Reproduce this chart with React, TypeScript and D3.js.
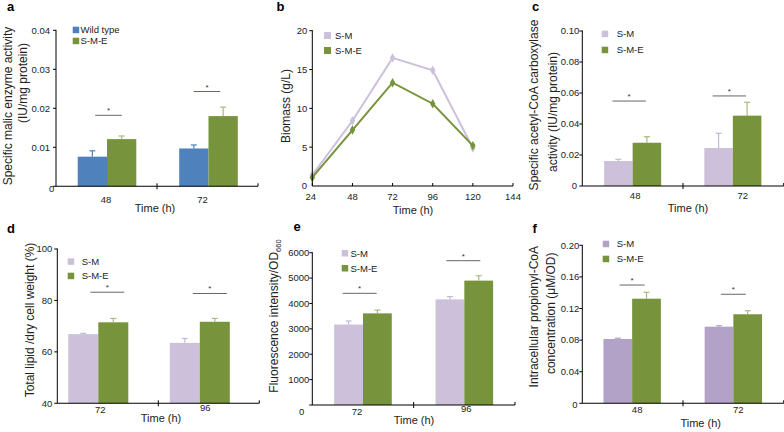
import React from "react";
import * as d3 from "d3";

const FONT = "'Liberation Sans', Arial, Helvetica, sans-serif";
const TXT = "#222";

const BLUE = "#4f81bd";
const GREEN = "#77933c";
const GREEN_ERR = "#a9b97f";
const LAV = "#ccc0da";
const LAV_ERR = "#c5b8d6";
const PURPLE = "#b3a2c7";

// ---- Panel a ----
const aCategories = ["48", "72"];
const aSeries = ["Wild type", "S-M-E"];
const aWildType = [0.0076, 0.0097];
const aWildTypeErr = [0.0015, 0.0009];
const aSME = [0.0121, 0.018];
const aSMEErr = [0.0008, 0.0023];
const aSig = [0.0182, 0.0243];
const aTicks = [0, 0.01, 0.02, 0.03, 0.04];

// ---- Panel b ----
const bTimes = [24, 48, 72, 96, 120];
const bSeries = ["S-M", "S-M-E"];
const bSM = [1.4, 8.4, 16.5, 14.9, 4.9];
const bSME = [1.1, 7.2, 13.3, 10.6, 5.2];
const bXTicks = [24, 48, 72, 96, 120, 144];
const bYTicks = [0, 5, 10, 15, 20];

// ---- Panel c ----
const cCategories = ["48", "72"];
const cSeries = ["S-M", "S-M-E"];
const cSM = [0.0161, 0.0245];
const cSMErr = [0.0011, 0.0095];
const cSME = [0.0279, 0.0454];
const cSMEErr = [0.0039, 0.0086];
const cSig = [0.0548, 0.0581];
const cTicks = [0, 0.02, 0.04, 0.06, 0.08, 0.1];

// ---- Panel d ----
const dCategories = ["72", "96"];
const dSeries = ["S-M", "S-M-E"];
const dSM = [66.9, 63.5];
const dSMErr = [0.3, 1.7];
const dSME = [71.5, 71.7];
const dSMEErr = [1.5, 1.3];
const dSig = [83.2, 82.7];
const dTicks = [40, 60, 80, 100];

// ---- Panel e ----
const eCategories = ["72", "96"];
const eSeries = ["S-M", "S-M-E"];
const eSM = [3170, 4160];
const eSMErr = [140, 110];
const eSME = [3610, 4900];
const eSMEErr = [130, 190];
const eSig = [4400, 5685];
const eTicks = [0, 1000, 2000, 3000, 4000, 5000, 6000];

// ---- Panel f ----
const fCategories = ["48", "72"];
const fSeries = ["S-M", "S-M-E"];
const fSM = [0.0814, 0.097];
const fSMErr = [0.001, 0.0012];
const fSME = [0.1324, 0.1127];
const fSMEErr = [0.0081, 0.0045];
const fSig = [0.1497, 0.138];
const fTicks = [0, 0.04, 0.08, 0.12, 0.16, 0.2];

type YLabel = { content: React.ReactNode; x: number; y: number };

type BarCfg = {
  letter: string;
  letterX: number;
  letterY: number;
  x0: number;
  x1: number;
  yBottom: number;
  yTop: number;
  domain: [number, number];
  ticks: number[];
  fmt: (v: number) => string;
  cats: string[];
  series: string[];
  values: number[][];
  errs: number[][];
  colors: string[];
  errColors: string[];
  barW: number;
  groupOffsets: number[];
  labelOffsets: number[];
  labelYs: number[];
  sig: number[];
  sigOffsets: number[];
  sigHalf: number;
  legendX: number;
  legendY: number;
  legendTextX: number;
  legendGap: number;
  yLabels: YLabel[];
  timeX: number;
  timeY: number;
  zeroLabel?: { x: number; y: number };
  tickGap: number;
};

function BarPanel({ c }: { c: BarCfg }) {
  const y = d3.scaleLinear().domain(c.domain).range([c.yBottom, c.yTop]);
  const xb = d3.scaleBand().domain(c.cats).range([c.x0, c.x1]);
  const inner = d3.scaleBand().domain(c.series).range([-c.barW, c.barW]);
  const mid = (c.x0 + c.x1) / 2;
  return (
    <g fill={TXT}>
      <text x={c.letterX} y={c.letterY} fontSize={13} fontWeight="bold" fontFamily={FONT} fill="#000">
        {c.letter}
      </text>
      {c.cats.map((cat, i) => {
        const center = (xb(cat) as number) + xb.bandwidth() / 2 + c.groupOffsets[i];
        return (
          <g key={cat}>
            {c.series.map((s, j) => {
              const v = c.values[j][i];
              const e = c.errs[j][i];
              const bx = center + (inner(s) as number);
              const bw = inner.bandwidth();
              const cx = bx + bw / 2;
              return (
                <g key={s}>
                  <rect x={bx} y={y(v)} width={bw} height={c.yBottom - y(v)} fill={c.colors[j]} />
                  <line x1={cx} x2={cx} y1={y(v)} y2={y(v + e)} stroke={c.errColors[j]} strokeWidth={1.2} />
                  <line x1={cx - 3} x2={cx + 3} y1={y(v + e)} y2={y(v + e)} stroke={c.errColors[j]} strokeWidth={1.2} />
                </g>
              );
            })}
            <line
              x1={center + c.sigOffsets[i] - c.sigHalf}
              x2={center + c.sigOffsets[i] + c.sigHalf}
              y1={y(c.sig[i])}
              y2={y(c.sig[i])}
              stroke="#555"
              strokeWidth={0.9}
            />
            <text x={center + c.sigOffsets[i]} y={y(c.sig[i]) - 2} fontSize={8} textAnchor="middle" fontFamily={FONT} fill="#333">
              *
            </text>
            <text x={center + c.labelOffsets[i]} y={c.labelYs[i]} dy="0.35em" fontSize={9.5} textAnchor="middle" fontFamily={FONT}>
              {cat}
            </text>
          </g>
        );
      })}
      <line x1={c.x0} x2={c.x0} y1={c.yTop - 0.5} y2={c.yBottom} stroke="#000" strokeWidth={1} />
      <line x1={c.x0} x2={c.x1} y1={c.yBottom} y2={c.yBottom} stroke="#000" strokeWidth={1.1} />
      <line x1={mid} x2={mid} y1={c.yBottom - 3} y2={c.yBottom + 3} stroke="#000" strokeWidth={1} />
      <line x1={c.x1} x2={c.x1} y1={c.yBottom - 3} y2={c.yBottom} stroke="#000" strokeWidth={1} />
      {c.ticks.map((t, k) => (
        <g key={k}>
          <line x1={c.x0 - 3} x2={c.x0} y1={y(t)} y2={y(t)} stroke="#000" strokeWidth={1} />
          {k === 0 && c.zeroLabel ? (
            <text x={c.zeroLabel.x} y={c.zeroLabel.y} dy="0.35em" fontSize={9.5} textAnchor="middle" fontFamily={FONT}>
              {c.fmt(t)}
            </text>
          ) : (
            <text x={c.x0 - c.tickGap} y={y(t)} dy="0.35em" fontSize={9.5} textAnchor="end" fontFamily={FONT}>
              {c.fmt(t)}
            </text>
          )}
        </g>
      ))}
      {c.series.map((s, j) => (
        <g key={s}>
          <rect x={c.legendX} y={c.legendY + j * c.legendGap} width={6.5} height={6.5} fill={c.colors[j]} />
          <text x={c.legendTextX} y={c.legendY + j * c.legendGap + 3.25} dy="0.35em" fontSize={9.5} fontFamily={FONT}>
            {s}
          </text>
        </g>
      ))}
      {c.yLabels.map((l, k) => (
        <text
          key={k}
          transform={`translate(${l.x},${l.y}) rotate(-90)`}
          dy="0.35em"
          textAnchor="middle"
          fontSize={12}
          fontFamily={FONT}
        >
          {l.content}
        </text>
      ))}
      <text x={c.timeX} y={c.timeY} dy="0.35em" textAnchor="middle" fontSize={11} fontFamily={FONT}>
        Time (h)
      </text>
    </g>
  );
}

function LinePanel() {
  const x0 = 312.3;
  const yB = 186;
  const x = d3.scaleLinear().domain([24, 144]).range([x0, 513]);
  const y = d3.scaleLinear().domain([0, 20]).range([yB, 30.7]);
  const line = d3
    .line<number>()
    .x((_, i) => x(bTimes[i]))
    .y((d) => y(d));
  const sym = d3.symbol().type(d3.symbolDiamond).size(26);
  const seriesVals = [bSM, bSME];
  const colors = [LAV, GREEN];
  return (
    <g fill={TXT}>
      <text x={276.5} y={11} fontSize={13} fontWeight="bold" fontFamily={FONT} fill="#000">
        b
      </text>
      {seriesVals.map((vals, j) => (
        <g key={j}>
          <path d={line(vals) as string} fill="none" stroke={colors[j]} strokeWidth={2} />
          {vals.map((v, i) => (
            <path key={i} d={sym() as string} transform={`translate(${x(bTimes[i])},${y(v)})`} fill={colors[j]} />
          ))}
        </g>
      ))}
      <line x1={x0} x2={x0} y1={30.2} y2={yB} stroke="#000" strokeWidth={1} />
      <line x1={x0} x2={513} y1={yB} y2={yB} stroke="#000" strokeWidth={1.1} />
      {bXTicks.map((t) => (
        <g key={t}>
          <line x1={x(t)} x2={x(t)} y1={yB - 3} y2={yB} stroke="#000" strokeWidth={1} />
          <text x={t === 24 ? x(t) - 1.5 : x(t)} y={196.5} dy="0.35em" fontSize={9.5} textAnchor="middle" fontFamily={FONT}>
            {t}
          </text>
        </g>
      ))}
      {bYTicks.map((t) =>
        t === 0 ? (
          <text key={t} x={304.5} y={186} dy="0.35em" fontSize={9.5} textAnchor="middle" fontFamily={FONT}>
            0
          </text>
        ) : (
          <g key={t}>
            <line x1={x0 - 3} x2={x0} y1={y(t)} y2={y(t)} stroke="#000" strokeWidth={1} />
            <text x={x0 - 5} y={y(t)} dy="0.35em" fontSize={9.5} textAnchor="end" fontFamily={FONT}>
              {t}
            </text>
          </g>
        )
      )}
      {bSeries.map((s, j) => (
        <g key={s}>
          <rect x={324} y={32 + j * 15} width={7} height={7} fill={colors[j]} />
          <text x={335} y={35.5 + j * 15} dy="0.35em" fontSize={9.5} fontFamily={FONT}>
            {s}
          </text>
        </g>
      ))}
      <text transform="translate(286,106) rotate(-90)" dy="0.35em" textAnchor="middle" fontSize={12} fontFamily={FONT}>
        Biomass (g/L)
      </text>
      <text x={413} y={210} dy="0.35em" textAnchor="middle" fontSize={11} fontFamily={FONT}>
        Time (h)
      </text>
    </g>
  );
}

const fmtPlain = (v: number) => (v === 0 ? "0" : String(v));
const fmt2 = (v: number) => (v === 0 ? "0" : v.toFixed(2));

const panelA: BarCfg = {
  letter: "a", letterX: 7, letterY: 11,
  x0: 56, x1: 258, yBottom: 186.3, yTop: 30.3,
  domain: [0, 0.04], ticks: aTicks, fmt: fmt2,
  cats: aCategories, series: aSeries,
  values: [aWildType, aSME], errs: [aWildTypeErr, aSMEErr],
  colors: [BLUE, GREEN], errColors: [BLUE, GREEN_ERR],
  barW: 29.3, groupOffsets: [0.5, 1], labelOffsets: [-1, -6], labelYs: [200, 200],
  sig: aSig, sigOffsets: [1.5, -1.5], sigHalf: 13.3,
  legendX: 72.7, legendY: 26.7, legendTextX: 80.5, legendGap: 11,
  yLabels: [
    { content: "Specific malic enzyme activity", x: 7.5, y: 106 },
    { content: "(IU/mg protein)", x: 22.5, y: 83 },
  ],
  timeX: 155, timeY: 208,
  zeroLabel: { x: 51.7, y: 189 },
  tickGap: 6,
};

const panelC: BarCfg = {
  letter: "c", letterX: 532, letterY: 11,
  x0: 582.3, x1: 783.7, yBottom: 186, yTop: 31,
  domain: [0, 0.1], ticks: cTicks, fmt: fmt2,
  cats: cCategories, series: cSeries,
  values: [cSM, cSME], errs: [cSMErr, cSMEErr],
  colors: [LAV, GREEN], errColors: [LAV_ERR, GREEN_ERR],
  barW: 28.5, groupOffsets: [0, -0.5], labelOffsets: [2.5, 10], labelYs: [196, 196],
  sig: cSig, sigOffsets: [-3.5, -3.5], sigHalf: 16.7,
  legendX: 601.7, legendY: 30.7, legendTextX: 616.7, legendGap: 16,
  yLabels: [
    { content: "Specific acetyl-CoA carboxylase", x: 534, y: 105 },
    { content: "activity (IU/mg protein)", x: 553, y: 112 },
  ],
  timeX: 688, timeY: 208,
  zeroLabel: { x: 574.3, y: 185.5 },
  tickGap: 3,
};

const panelD: BarCfg = {
  letter: "d", letterX: 7, letterY: 232.5,
  x0: 57.3, x1: 259.3, yBottom: 403.3, yTop: 249,
  domain: [40, 100], ticks: dTicks, fmt: fmtPlain,
  cats: dCategories, series: dSeries,
  values: [dSM, dSME], errs: [dSMErr, dSMEErr],
  colors: [LAV, GREEN], errColors: [LAV_ERR, GREEN_ERR],
  barW: 30, groupOffsets: [-9.5, -9], labelOffsets: [2, 5.5], labelYs: [410, 408],
  sig: dSig, sigOffsets: [9, 10], sigHalf: 17,
  legendX: 67.7, legendY: 258.3, legendTextX: 81.7, legendGap: 14.4,
  yLabels: [{ content: "Total lipid /dry cell weight (%)", x: 29.5, y: 320 }],
  timeX: 161, timeY: 418,
  tickGap: 5,
};

const panelE: BarCfg = {
  letter: "e", letterX: 293.5, letterY: 231,
  x0: 312.3, x1: 515, yBottom: 405, yTop: 252.7,
  domain: [0, 6000], ticks: eTicks, fmt: fmtPlain,
  cats: eCategories, series: eSeries,
  values: [eSM, eSME], errs: [eSMErr, eSMEErr],
  colors: [LAV, GREEN], errColors: [LAV_ERR, GREEN_ERR],
  barW: 28.8, groupOffsets: [0, 0], labelOffsets: [-6, 2], labelYs: [411.7, 409],
  sig: eSig, sigOffsets: [-3.3, -1], sigHalf: 17,
  legendX: 341.7, legendY: 250, legendTextX: 350.5, legendGap: 15,
  yLabels: [
    {
      content: (
        <>
          Fluorescence intensity/OD
          <tspan fontSize={7.5} dy="3">660</tspan>
        </>
      ),
      x: 273.7,
      y: 316,
    },
  ],
  timeX: 414, timeY: 420,
  zeroLabel: { x: 301.7, y: 411.7 },
  tickGap: 3,
};

const panelF: BarCfg = {
  letter: "f", letterX: 532.5, letterY: 232.5,
  x0: 582.3, x1: 783.7, yBottom: 403.3, yTop: 245.3,
  domain: [0, 0.2], ticks: fTicks, fmt: fmt2,
  cats: fCategories, series: fSeries,
  values: [fSM, fSME], errs: [fSMErr, fSMEErr],
  colors: [PURPLE, GREEN], errColors: [PURPLE, GREEN_ERR],
  barW: 28.7, groupOffsets: [-0.5, 0], labelOffsets: [5, 5], labelYs: [410, 410],
  sig: fSig, sigOffsets: [0, 0], sigHalf: 12.5,
  legendX: 602.7, legendY: 240.7, legendTextX: 616.7, legendGap: 15,
  yLabels: [
    { content: "Intracellular propionyl-CoA", x: 534, y: 316.7 },
    { content: "concentration (μM/OD)", x: 551, y: 313.3 },
  ],
  timeX: 700.7, timeY: 423,
  zeroLabel: { x: 575, y: 405 },
  tickGap: 3,
};

export default function App() {
  return (
    <svg
      width={784}
      height={432}
      viewBox="0 0 784 432"
      style={{ position: "absolute", left: 0, top: 0, display: "block", background: "#fff" }}
    >
      <rect x={0} y={0} width={784} height={432} fill="#fff" />
      <BarPanel c={panelA} />
      <LinePanel />
      <BarPanel c={panelC} />
      <BarPanel c={panelD} />
      <BarPanel c={panelE} />
      <BarPanel c={panelF} />
    </svg>
  );
}
